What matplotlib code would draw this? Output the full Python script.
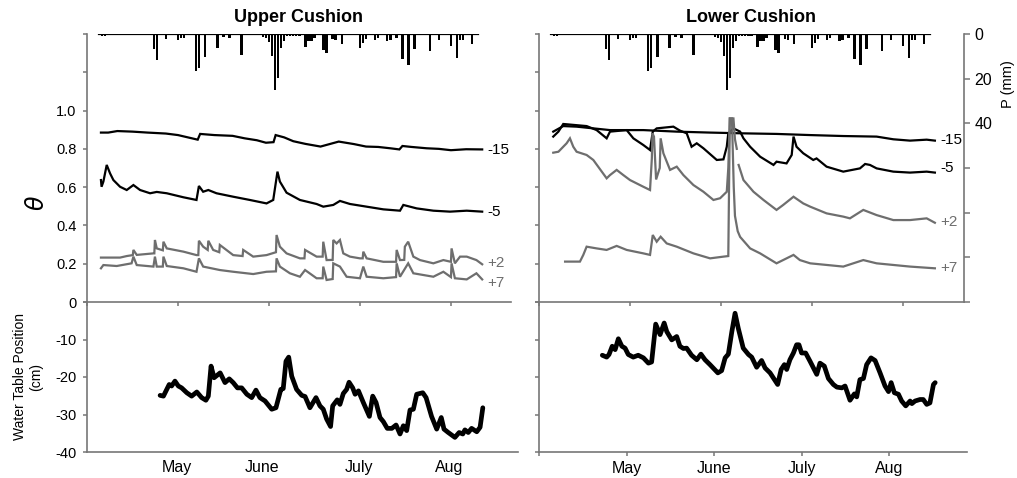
import matplotlib.pyplot as plt

plt.rcParams['font.family'] = ['Liberation Sans', 'DejaVu Sans']

# x values are days since 1 April
# --- daily precipitation (mm), same gauge for both cushions ---
p_day = [5, 6, 13, 17, 22, 23, 26, 30, 31, 32, 36, 37, 39, 43, 45, 47, 51, 58, 59, 60,
         61, 62, 63, 64, 65, 66, 67, 68, 69, 70, 72, 73, 74, 75, 78, 79, 81, 82, 84,
         90, 91, 92, 95, 96, 99, 100, 102, 104, 106, 108, 113, 116, 120, 122, 123, 124, 127]
p_mm = [0.7, 0.7, 0.3, 0.3, 6.7, 11.8, 2.2, 2.5, 1.8, 2.0, 16.7, 15.2, 10.5, 6.3, 1.3, 2.0, 9.3, 1.3, 1.8, 3.7,
        9.7, 25.0, 19.7, 6.3, 3.0, 1.0, 1.0, 1.0, 0.8, 1.0, 5.8, 3.3, 3.3, 1.8, 7.0, 8.5, 2.2, 2.5, 4.3,
        6.3, 4.0, 2.2, 2.5, 1.8, 3.3, 2.5, 1.8, 11.2, 13.8, 6.7, 7.5, 2.8, 5.2, 10.7, 2.5, 2.5, 4.3]
p_first, p_last = 4, 129

# --- Upper cushion, soil moisture theta at depths -15, -5, +2, +7 cm ---
ul_m15_day = [4.6, 7, 10, 15, 20, 26, 30, 36.5, 37.3, 42, 48, 52, 56, 59, 61.5, 62.2, 65, 68, 72, 77,
              80, 83, 88, 92, 96, 100, 103, 104, 107, 112, 116, 120, 125, 130.3]
ul_m15 = [0.885, 0.885, 0.893, 0.89, 0.885, 0.88, 0.872, 0.848, 0.878, 0.872, 0.868, 0.855, 0.845, 0.832, 0.835,
          0.872, 0.86, 0.84, 0.826, 0.812, 0.825, 0.838, 0.825, 0.812, 0.81, 0.803, 0.797, 0.815, 0.81, 0.803,
          0.8, 0.793, 0.798, 0.797]
ul_m5_day = [4.6, 4.8, 5.4, 6.5, 7.6, 8.7, 10.9, 13.1, 15.3, 17.5, 20.8, 23.0, 26.3, 31.8, 36.1, 36.9, 38.3,
             40.0, 42.7, 48.2, 53.7, 59.2, 61.4, 62.8, 63.6, 65.8, 70.2, 75.7, 77.9, 81.2, 83.4, 86.7, 92.2,
             97.7, 103.2, 104.3, 108.7, 114.2, 119.7, 125.2, 130.3]
ul_m5 = [0.637, 0.602, 0.629, 0.716, 0.672, 0.637, 0.602, 0.585, 0.611, 0.585, 0.568, 0.575, 0.568, 0.547,
         0.533, 0.606, 0.576, 0.585, 0.568, 0.55, 0.533, 0.515, 0.533, 0.681, 0.629, 0.571, 0.533, 0.512, 0.498,
         0.507, 0.528, 0.512, 0.498, 0.484, 0.477, 0.507, 0.489, 0.477, 0.472, 0.477, 0.472]
ul_p2_day = [4.6, 10.9, 13.1, 15.1, 15.3, 16.4, 21.9, 22.2, 22.4, 23.0, 25.0, 25.2, 26.3, 31.8, 36.1, 36.7,
             36.9, 38.3, 39.8, 40.0, 41.6, 43.6, 43.8, 48.2, 51.3, 51.5, 54.8, 59.2, 62.3, 62.5, 63.6, 65.8,
             70.2, 71.7, 71.9, 75.7, 77.7, 77.9, 79.0, 81.0, 81.2, 82.3, 83.4, 84.5, 86.7, 90.0, 90.9, 91.1,
             92.2, 97.7, 101.9, 102.1, 103.2, 104.6, 104.8, 105.9, 107.6, 109.8, 114.2, 117.5, 120.0, 120.2,
             121.3, 123.0, 125.2, 128.4, 130.3]
ul_p2 = [0.232, 0.232, 0.240, 0.245, 0.272, 0.246, 0.254, 0.254, 0.324, 0.280, 0.270, 0.315, 0.280, 0.263,
         0.245, 0.245, 0.320, 0.289, 0.272, 0.320, 0.272, 0.26, 0.298, 0.245, 0.24, 0.272, 0.237, 0.245, 0.26,
         0.350, 0.289, 0.254, 0.228, 0.228, 0.272, 0.237, 0.237, 0.315, 0.219, 0.22, 0.324, 0.306, 0.324,
         0.254, 0.237, 0.228, 0.228, 0.263, 0.228, 0.210, 0.21, 0.272, 0.219, 0.22, 0.289, 0.315, 0.237,
         0.219, 0.202, 0.219, 0.21, 0.280, 0.202, 0.237, 0.237, 0.219, 0.197]
ul_p7_day = [4.6, 5.4, 9.8, 14.7, 15.3, 16.4, 21.9, 22.4, 23.0, 25.0, 25.2, 26.3, 31.8, 36.1, 36.9, 38.3,
             43.8, 48.2, 54.8, 59.2, 62.3, 62.5, 63.6, 66.9, 70.2, 71.9, 75.7, 77.7, 77.9, 79.0, 81.0, 81.2,
             83.4, 85.6, 90.0, 91.1, 92.2, 97.7, 101.9, 102.1, 103.2, 105.9, 107.6, 114.2, 117.5, 120.0, 120.2,
             121.3, 125.2, 128.4, 130.3]
ul_p7 = [0.176, 0.193, 0.188, 0.202, 0.237, 0.193, 0.185, 0.237, 0.185, 0.185, 0.237, 0.188, 0.176, 0.158,
         0.228, 0.185, 0.167, 0.158, 0.146, 0.158, 0.16, 0.228, 0.185, 0.150, 0.132, 0.167, 0.124, 0.124,
         0.185, 0.115, 0.12, 0.202, 0.185, 0.132, 0.124, 0.185, 0.132, 0.124, 0.13, 0.202, 0.132, 0.202,
         0.150, 0.132, 0.158, 0.13, 0.202, 0.124, 0.118, 0.150, 0.118]

# --- Lower cushion ---
lr_m15_day = [4.7, 8.0, 12.4, 17.9, 23.4, 34.4, 45.4, 56.4, 67.4, 78.3, 89.4, 100.3, 111.3, 116.8, 122.3,
              127.8, 130.5]
lr_m15 = [0.89, 0.919, 0.916, 0.907, 0.898, 0.898, 0.89, 0.885, 0.881, 0.878, 0.872, 0.867, 0.864, 0.85,
          0.843, 0.848, 0.843]
lr_m5_day = [4.7, 6.4, 8.0, 15.7, 19.0, 22.3, 23.4, 28.9, 31.1, 34.4, 36.6, 37.5, 38.8, 44.3, 46.5, 48.7,
             50.3, 52.0, 54.2, 58.6, 60.8, 61.9, 62.4, 64.1, 66.3, 67.4, 69.6, 72.9, 77.3, 78.3, 81.6, 83.3,
             83.9, 84.9, 87.1, 90.4, 91.5, 94.8, 100.3, 105.8, 107.5, 109.1, 111.3, 116.8, 122.3, 127.8, 130.5]
lr_m5 = [0.864, 0.89, 0.93, 0.919, 0.898, 0.855, 0.89, 0.898, 0.855, 0.82, 0.794, 0.89, 0.907, 0.916, 0.895,
         0.881, 0.811, 0.829, 0.803, 0.742, 0.745, 0.811, 0.881, 0.907, 0.89, 0.855, 0.811, 0.759, 0.716,
         0.733, 0.724, 0.768, 0.864, 0.811, 0.777, 0.742, 0.75, 0.707, 0.681, 0.698, 0.721, 0.716, 0.698,
         0.681, 0.676, 0.681, 0.676]
# nan marks the short logger gap after the June storm
lr_p2_day = [4.7, 6.4, 9.1, 10.2, 11.3, 12.4, 15.7, 17.9, 22.3, 23.4, 25.6, 27.8, 30.0, 34.4, 36.6, 37.2,
             37.4, 37.9, 38.6, 39.8, 40.1, 41.0, 43.2, 45.4, 47.6, 50.9, 54.2, 57.5, 59.7, 61.9, 62.4, 62.9,
             64.1, 64.6, 65.2, 65.7, 65.8, 67.4, 70.7, 74.0, 78.3, 80.5, 83.9, 87.1, 89.4, 94.8, 100.3, 102.5,
             106.9, 111.3, 116.8, 122.3, 127.8, 130.5]
lr_p2 = [0.78, 0.785, 0.829, 0.855, 0.811, 0.785, 0.768, 0.742, 0.646, 0.663, 0.69, 0.663, 0.637, 0.602,
         0.585, 0.75, 0.881, 0.864, 0.64, 0.70, 0.855, 0.777, 0.69, 0.707, 0.663, 0.611, 0.576, 0.533, 0.542,
         0.576, 0.70, 0.959, 0.959, 0.85, 0.80, float('nan'), 0.716, 0.637, 0.576, 0.533, 0.481, 0.507, 0.55,
         0.515, 0.498, 0.463, 0.446, 0.437, 0.481, 0.454, 0.428, 0.428, 0.437, 0.414]
lr_p7_day = [8.6, 13.5, 14.6, 15.7, 19.0, 22.3, 25.6, 28.9, 34.4, 36.6, 37.5, 38.8, 40.1, 42.1, 45.4, 50.9,
             56.4, 60.8, 62.4, 62.9, 63.6, 64.2, 64.6, 65.5, 66.3, 67.4, 69.6, 72.9, 78.3, 83.9, 86.0, 89.4,
             100.3, 106.9, 111.3, 122.3, 130.5]
lr_p7 = [0.211, 0.211, 0.246, 0.289, 0.28, 0.272, 0.293, 0.272, 0.254, 0.246, 0.35, 0.315, 0.341, 0.306,
         0.289, 0.254, 0.228, 0.237, 0.24, 0.959, 0.959, 0.60, 0.45, 0.37, 0.34, 0.32, 0.28, 0.254, 0.202,
         0.246, 0.219, 0.202, 0.185, 0.219, 0.202, 0.185, 0.176]

# --- water table position (cm) ---
wt_up_day = [24.1, 25.2, 26.3, 27.1, 27.9, 29.0, 30.1, 31.2, 32.9, 34.5, 36.2, 37.8, 39.2, 40.0, 40.9, 41.9,
             43.9, 45.5, 46.9, 48.2, 49.6, 51.0, 52.7, 54.3, 55.7, 57.0, 58.7, 60.9, 62.3, 63.9, 64.7, 65.6,
             66.5, 67.5, 69.1, 70.8, 71.9, 73.5, 75.5, 76.8, 77.9, 79.0, 80.3, 81.0, 82.5, 83.4, 84.5, 85.6,
             86.4, 87.6, 88.4, 89.5, 91.1, 93.1, 94.2, 95.3, 96.6, 97.7, 99.0, 100.5, 101.9, 103.2, 104.3,
             105.4, 106.5, 107.6, 108.7, 110.7, 111.8, 113.6, 115.3, 116.8, 117.7, 119.1, 121.3, 122.7, 123.9,
             124.6, 125.7, 126.8, 128.5, 129.6, 130.5]
wt_up = [-24.9, -25.1, -23.3, -22.0, -22.4, -21.1, -22.4, -22.9, -24.2, -25.1, -24.0, -25.5, -26.2, -25.1,
         -17.1, -20.2, -18.9, -21.5, -20.5, -21.5, -22.9, -22.9, -24.6, -25.5, -23.5, -25.5, -26.4, -28.6,
         -28.2, -23.3, -23.1, -15.8, -14.7, -19.8, -23.3, -24.9, -25.2, -28.2, -25.5, -27.7, -28.6, -31.2,
         -33.2, -27.7, -26.1, -27.3, -24.4, -23.3, -21.4, -22.9, -24.6, -23.7, -26.8, -30.5, -25.1, -26.8,
         -30.8, -31.9, -33.7, -33.7, -32.8, -35.2, -33.0, -34.3, -28.8, -28.6, -24.6, -24.2, -25.5, -30.5,
         -33.9, -30.8, -33.9, -34.8, -36.1, -34.8, -35.2, -34.1, -34.8, -33.7, -34.6, -33.4, -28.2]
wt_lo_day = [21.7, 23.2, 24.0, 25.1, 26.1, 27.2, 28.4, 29.5, 30.6, 32.3, 34.0, 35.8, 37.5, 38.6, 40.0, 41.5,
             42.9, 43.8, 45.5, 47.2, 48.3, 49.5, 50.6, 52.3, 54.1, 55.5, 56.9, 58.6, 61.3, 62.6, 63.8, 64.9,
             66.1, 67.2, 68.3, 70.0, 71.8, 72.9, 74.6, 76.3, 77.5, 79.2, 81.8, 83.0, 84.1, 84.9, 86.0, 87.2,
             88.3, 89.1, 90.0, 91.4, 92.9, 95.2, 96.3, 97.8, 99.2, 100.9, 102.1, 103.8, 104.9, 106.6, 108.1,
             108.9, 110.0, 111.2, 112.3, 113.8, 115.2, 116.9, 118.6, 119.8, 120.7, 121.8, 123.2, 124.3, 125.7,
             127.2, 127.8, 128.9, 130.6, 131.7, 132.9, 134.0, 135.2, 135.8]
wt_lo = [-14.2, -14.7, -14.0, -11.8, -12.7, -9.8, -11.8, -12.3, -14.0, -14.7, -14.2, -14.9, -16.3, -16.0,
         -5.9, -8.7, -5.6, -7.9, -10.1, -9.2, -11.8, -12.4, -12.3, -14.2, -15.4, -13.9, -15.4, -16.7, -18.9,
         -18.3, -14.9, -13.9, -7.9, -3.0, -7.0, -12.3, -14.0, -14.7, -17.4, -15.6, -17.6, -18.9, -22.0,
         -18.0, -16.7, -18.0, -15.4, -13.6, -11.4, -11.4, -13.6, -13.6, -15.8, -19.3, -16.3, -17.1, -20.4,
         -22.0, -22.7, -22.9, -22.4, -26.2, -24.5, -25.3, -20.7, -20.4, -16.7, -14.9, -15.6, -18.9, -22.4,
         -23.9, -21.5, -24.2, -24.6, -26.4, -27.7, -26.4, -27.1, -26.4, -26.0, -26.0, -27.3, -26.9, -22.0,
         -21.5]

months = ['May', 'June', 'July', 'Aug']
month_day_left = [29.7, 57.7, 89.7, 119.4]
month_day_right = [30, 60, 90, 120]
depths = ['-15', '-5', '+2', '+7']

BLACK = 'black'
GREY = '#6e6e6e'
AXC = '#777777'

W, H = 1017, 478
fig = plt.figure(figsize=(W / 100, H / 100), dpi=100)


def box(l, t, r, b):
    return [l / W, 1 - b / H, (r - l) / W, (b - t) / H]


def style(ax):
    ax.patch.set_visible(False)
    for s in ['top', 'right']:
        ax.spines[s].set_visible(False)
    for s in ['left', 'bottom']:
        ax.spines[s].set_color(AXC)
        ax.spines[s].set_linewidth(1.2)
    ax.tick_params(color=AXC, labelcolor='black', length=3, width=1.1, labelsize=10.5, pad=4.5)


def theta_panel(rect, xmax, series, label_y, left_labels, p_axis):
    ax = fig.add_axes(rect)
    style(ax)
    ax.set_xlim(0, xmax)
    ax.set_ylim(0, 1.4)
    ax.set_xticks([0, 30, 60, 90, 120])
    ax.set_xticklabels([])
    ax.set_yticks([0, 0.2, 0.4, 0.6, 0.8, 1.0, 1.2, 1.4])
    if left_labels:
        ax.set_yticklabels(['', '0.2', '0.4', '0.6', '0.8', '1.0', '', ''])
    else:
        ax.set_yticklabels([])
    for (d, v, c), name, ly in zip(series, depths, label_y):
        ax.plot(d, v, color=c, lw=1.6, solid_joinstyle='miter')
        ax.text(d[-1] + 1.8, ly, name, color=c, fontsize=11, va='center', ha='left', clip_on=False)

    ax2 = ax.twinx()
    ax2.set_ylim(120, 0)
    ax2.set_xlim(0, xmax)
    ax2.bar(p_day, p_mm, width=0.8, color='black', align='center')
    ax2.plot([p_first, p_last], [0, 0], color='black', lw=1.6)
    for s in ['top', 'left', 'bottom']:
        ax2.spines[s].set_visible(False)
    if p_axis:
        ax2.spines['right'].set_color(AXC)
        ax2.spines['right'].set_linewidth(1.2)
        ax2.set_yticks([0, 20, 40, 60, 80, 100, 120])
        ax2.set_yticklabels(['0', '20', '40', '', '', '', ''])
        ax2.tick_params(color=AXC, labelcolor='black', length=4, width=1.1, labelsize=11.5, pad=3.5)
    else:
        ax2.spines['right'].set_visible(False)
        ax2.set_yticks([])
    return ax


def wt_panel(rect, xmax, d, v, ticks, left_labels):
    ax = fig.add_axes(rect)
    style(ax)
    ax.set_xlim(0, xmax)
    ax.set_ylim(-40, 0)
    ax.set_yticks([-40, -30, -20, -10, 0])
    if left_labels:
        ax.set_yticklabels(['-40', '-30', '-20', '-10', '0'])
    else:
        ax.set_yticklabels([])
    ax.plot(d, v, color='black', lw=3.4, solid_joinstyle='round', solid_capstyle='round')
    ax.set_xticks(ticks)
    return ax


# water table panels first so the theta panels' bottom axis sits on top
ll = wt_panel(box(87, 302, 518, 452), 142.1, wt_up_day, wt_up, month_day_left, True)
ll.set_xticklabels(months, fontsize=11.5)
ll.tick_params(axis='x', length=0, pad=5.5)
lr = wt_panel(box(539, 302, 967, 452), 146.7, wt_lo_day, wt_lo, [0] + month_day_right, False)
lr.set_xticklabels([''] + months, fontsize=11.5)
lr.tick_params(axis='x', length=3, pad=3.5)

theta_panel(box(87, 34, 511, 302), 139.8,
            [(ul_m15_day, ul_m15, BLACK), (ul_m5_day, ul_m5, BLACK),
             (ul_p2_day, ul_p2, GREY), (ul_p7_day, ul_p7, GREY)],
            [0.794, 0.47, 0.204, 0.099], True, False)
theta_panel(box(539, 34, 964, 302), 140.1,
            [(lr_m15_day, lr_m15, BLACK), (lr_m5_day, lr_m5, BLACK),
             (lr_p2_day, lr_p2, GREY), (lr_p7_day, lr_p7, GREY)],
            [0.846, 0.70, 0.418, 0.178], False, True)

# titles and axis labels
fig.text(298 / W, 1 - 17 / H, 'Upper Cushion', ha='center', va='center', fontsize=13, fontweight='bold')
fig.text(751 / W, 1 - 17 / H, 'Lower Cushion', ha='center', va='center', fontsize=13, fontweight='bold')
fig.text(37 / W, 1 - 203 / H, '$\\theta$', rotation=90, ha='center', va='center', fontsize=17)
fig.text(28 / W, 1 - 377 / H, 'Water Table Position\n(cm)', rotation=90, ha='center', va='center',
         fontsize=10, multialignment='center', linespacing=1.25)
fig.text(1008 / W, 1 - 84 / H, 'P (mm)', rotation=90, ha='center', va='center', fontsize=10.5)

plt.savefig('out.png', dpi=100)
